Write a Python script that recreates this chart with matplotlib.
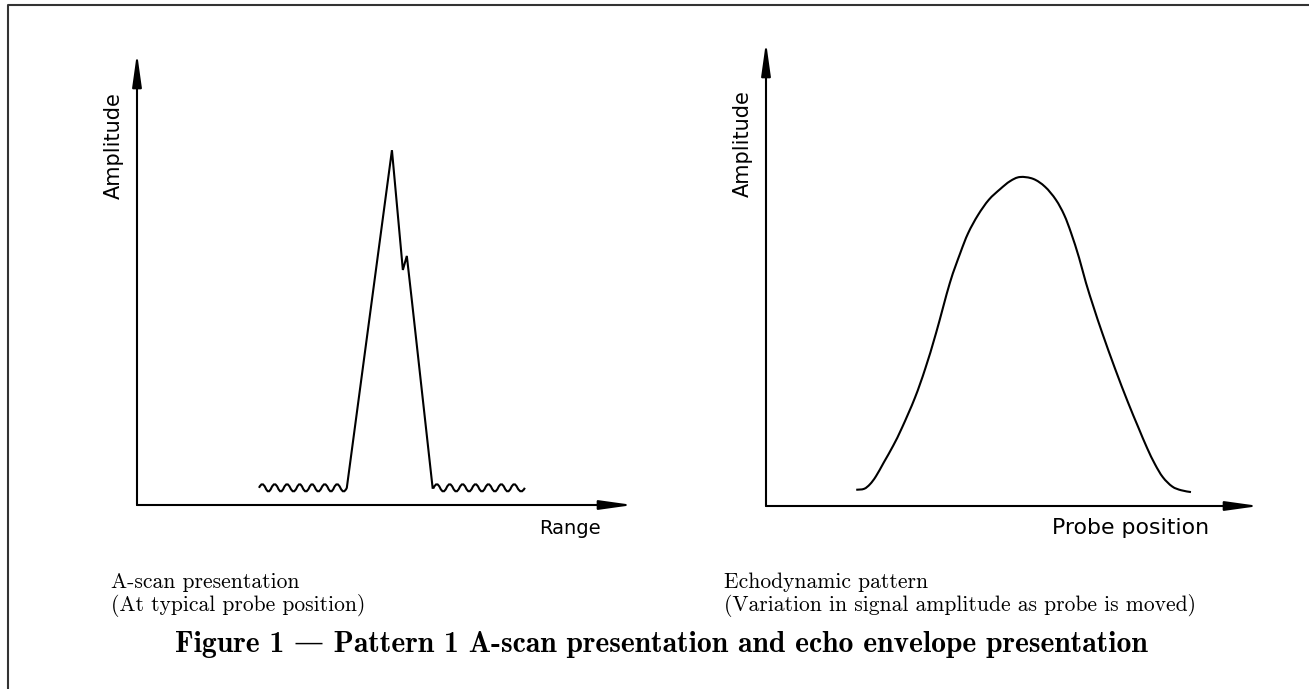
import matplotlib
matplotlib.use("Agg")
import matplotlib.pyplot as plt
from matplotlib.path import Path
from matplotlib.patches import PathPatch
from matplotlib.lines import Line2D
import numpy as np

# ---------------- data ----------------
# A-scan: baseline noise crossings (Range units, 0-100), pulse vertices
ascan_noise_left_x = [24.6, 25.9, 27.1, 28.4, 29.6, 30.9, 32.2, 33.4,
                      34.7, 35.9, 37.2, 38.5, 39.7, 41.0, 42.3]
ascan_noise_right_x = [59.8, 61.1, 62.4, 63.7, 65.0, 66.3, 67.6, 68.9,
                       70.2, 71.5, 72.8, 74.1, 75.4, 76.7, 78.2]
ascan_noise_level = 3.8
ascan_noise_ripple = 0.8
ascan_pulse_x = [42.3, 51.4, 53.6, 54.4, 55.4, 59.6, 59.8]
ascan_pulse_y = [3.8, 78.5, 52.0, 55.1, 45.4, 3.8, 3.8]

# Echodynamic envelope (Probe position units, 0-100)
echo_x = [18.3, 19.9, 21.1, 22.3, 23.9, 25.8, 27.6, 30.2, 32.3, 34.5,
          37.3, 39.4, 41.0, 43.0, 45.2, 47.5, 49.5, 51.5, 54.2, 56.6,
          58.8, 60.5, 61.9, 63.5, 64.9, 66.5, 68.2, 70.8, 73.4, 75.5,
          77.3, 78.9, 80.5, 82.4, 84.2, 86.2]
echo_y = [3.5, 3.7, 4.7, 6.4, 9.4, 13.0, 16.9, 23.3, 29.6, 37.3,
          48.1, 54.5, 58.8, 62.7, 66.0, 68.3, 70.0, 70.9, 70.5, 68.8,
          66.0, 62.7, 58.8, 53.5, 48.1, 42.7, 37.3, 29.6, 22.4, 17.0,
          12.5, 9.0, 6.2, 4.2, 3.4, 3.0]

axis_labels_left = ("Range", "Amplitude")
axis_labels_right = ("Probe position", "Amplitude")
caption_left = "A-scan presentation\n(At typical probe position)"
caption_right = "Echodynamic pattern\n(Variation in signal amplitude as probe is moved)"
title = "Figure 1 \u2014 Pattern 1 A-scan presentation and echo envelope presentation"

# ---------------- figure ----------------
W, H = 1309, 689
fig = plt.figure(figsize=(W / 100, H / 100), dpi=100)
fig.patch.set_facecolor("white")

LW = 1.5
SANS = ["DejaVu Sans"]
SERIF = ["cmr10", "DejaVu Serif"]
SERIF_B = ["cmb10", "DejaVu Serif"]


def px_axes(x0, y0, x1, y1):
    # origin pixel (x0,y0), x tip x1, y tip y1 (pixel coords from top-left)
    return fig.add_axes([x0 / W, (H - y0) / H, (x1 - x0) / W, (y0 - y1) / H])


def draw_axes_arrows(ax):
    style = "-|>,head_length=1.0,head_width=0.14"
    for xy in [(1, 0), (0, 1)]:
        ax.annotate("", xy=xy, xytext=(0, 0), xycoords="axes fraction",
                    textcoords="axes fraction",
                    arrowprops=dict(arrowstyle=style, mutation_scale=20,
                                    lw=LW, color="black", fc="black",
                                    shrinkA=0, shrinkB=0))


def smooth_path(xs, ys):
    # Catmull-Rom -> cubic Bezier rendering of the listed vertices
    pts = np.column_stack([xs, ys])
    verts = [pts[0]]
    codes = [Path.MOVETO]
    n = len(pts)
    for i in range(n - 1):
        p0 = pts[i - 1] if i > 0 else pts[i]
        p1 = pts[i]
        p2 = pts[i + 1]
        p3 = pts[i + 2] if i + 2 < n else pts[i + 1]
        c1 = p1 + (p2 - p0) / 6.0
        c2 = p2 - (p3 - p1) / 6.0
        verts += [c1, c2, p2]
        codes += [Path.CURVE4] * 3
    return Path(verts, codes)


# ---------------- left: A-scan ----------------
axL = px_axes(137, 505, 633, 53)
axL.set_xlim(0, 100)
axL.set_ylim(0, 100)
axL.axis("off")
draw_axes_arrows(axL)

verts, codes = [], []
verts.append((ascan_noise_left_x[0], ascan_noise_level)); codes.append(Path.MOVETO)
sign = 1
for a, b in zip(ascan_noise_left_x[:-1], ascan_noise_left_x[1:]):
    verts += [((a + b) / 2, ascan_noise_level + sign * 2 * ascan_noise_ripple),
              (b, ascan_noise_level)]
    codes += [Path.CURVE3, Path.CURVE3]
    sign = -sign
for x, y in zip(ascan_pulse_x[1:], ascan_pulse_y[1:]):
    verts.append((x, y)); codes.append(Path.LINETO)
sign = 1
for a, b in zip(ascan_noise_right_x[:-1], ascan_noise_right_x[1:]):
    verts += [((a + b) / 2, ascan_noise_level + sign * 2 * ascan_noise_ripple),
              (b, ascan_noise_level)]
    codes += [Path.CURVE3, Path.CURVE3]
    sign = -sign
axL.add_patch(PathPatch(Path(verts, codes), fill=False, lw=LW,
                        ec="black", joinstyle="miter", clip_on=False))

axL.text(87.3, -5.1, axis_labels_left[0], ha="center", va="center",
         fontsize=14, family=SANS, clip_on=False)
axL.text(-4.6, 79.6, axis_labels_left[1], ha="center", va="center",
         rotation=90, fontsize=15, family=SANS, clip_on=False)

# ---------------- right: echodynamic ----------------
axR = px_axes(766, 506, 1259, 42)
axR.set_xlim(0, 100)
axR.set_ylim(0, 100)
axR.axis("off")
draw_axes_arrows(axR)
axR.add_patch(PathPatch(smooth_path(echo_x, echo_y), fill=False, lw=LW,
                        ec="black", clip_on=False))
axR.text(74.0, -4.7, axis_labels_right[0], ha="center", va="center",
         fontsize=15.8, family=SANS, clip_on=False)
axR.text(-4.7, 78.2, axis_labels_right[1], ha="center", va="center",
         rotation=90, fontsize=15, family=SANS, clip_on=False)

# ---------------- captions and title ----------------
fig.text(111 / W, (H - 595) / H, caption_left, ha="left", va="center",
         fontsize=15.5, family=SERIF, linespacing=1.12)
fig.text(724 / W, (H - 595) / H, caption_right, ha="left", va="center",
         fontsize=15.5, family=SERIF, linespacing=1.12)
fig.text(661 / W, (H - 645) / H, title, ha="center", va="center",
         fontsize=21.3, family=SERIF_B)

# page border (left and top edges)
bx = 8 / W
by = (H - 5) / H
fig.add_artist(Line2D([bx, bx, 1.0], [0.0, by, by], transform=fig.transFigure,
                      color="#333333", lw=1.5))

fig.savefig("out.png", dpi=100, facecolor="white")
